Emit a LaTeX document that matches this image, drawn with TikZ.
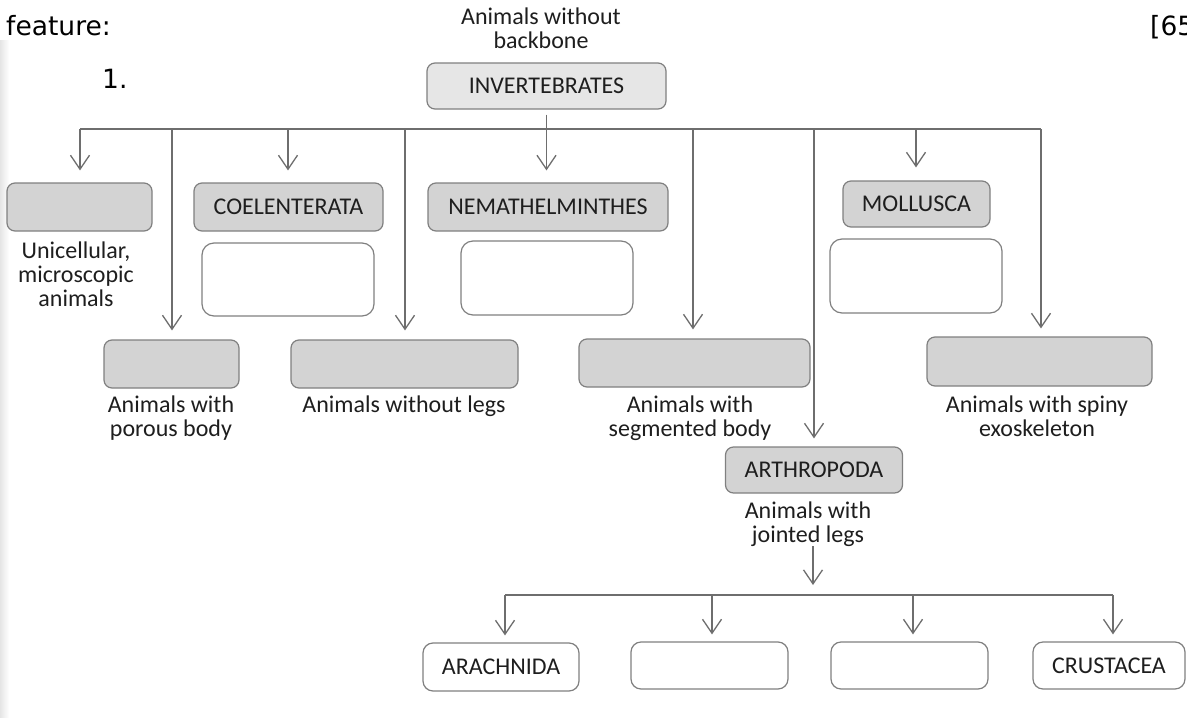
\documentclass[tikz,border=0pt]{standalone}
\usepackage{fontspec}
\setmainfont{Carlito}
\newfontfamily\dejavu{DejaVu Sans}
\usetikzlibrary{arrows.meta}
\definecolor{lncol}{HTML}{6E6E6E}
\definecolor{bdcol}{HTML}{808080}
\definecolor{gfill}{HTML}{D3D3D3}
\definecolor{lfill}{HTML}{E6E6E6}
\definecolor{txcol}{HTML}{1E1E1E}
\tikzset{
  gbox/.style={draw=bdcol, fill=gfill, line width=1.2pt, rounded corners=8pt, inner sep=0pt, text=txcol},
  ibox/.style={gbox, fill=lfill},
  wbox/.style={draw=bdcol, fill=white, line width=1.2pt, rounded corners=12pt, inner sep=0pt},
  sbox/.style={draw=bdcol, fill=white, line width=1.2pt, rounded corners=10pt, inner sep=0pt, text=txcol},
  lbl/.style={align=center, inner sep=0pt, anchor=north, text=txcol},
  conn/.style={draw=lncol, line width=1.3pt},
  arr/.style={conn, -{Straight Barb[length=14pt,width=19pt]}},
  topfont/.style={font=\dejavu\fontsize{26.5}{26.5}\selectfont, inner sep=0pt, anchor=base west, text=black}
}
\begin{document}
\begin{tikzpicture}[x=1pt, y=-1pt, font=\fontsize{24}{24}\selectfont]
\useasboundingbox (0,0) rectangle (1187,718);
\clip (0,0) rectangle (1187,718);
\fill[white] (0,0) rectangle (1187,718);
\shade[left color=black!10, right color=white] (0,40) rectangle (9,718);

% header texts
\node[topfont] (feat) at (6,35) {feature:};
\node[topfont] (num) at (102,88) {1.};
\node[topfont] (mark) at (1150,35) {[65};

% top label and root
\node[lbl] (t0) at (541,8) {Animals without\\backbone};
\node[ibox, minimum width=239pt, minimum height=46pt] (inv) at (546.5,86) {INVERTEBRATES};

% first-level boxes
\node[gbox, minimum width=145pt, minimum height=48pt] (uni) at (79.5,207) {};
\node[gbox, minimum width=189pt, minimum height=48pt] (coel) at (288.5,207) {COELENTERATA};
\node[wbox, minimum width=172pt, minimum height=73pt] (coelw) at (288,279.5) {};
\node[gbox, minimum width=240pt, minimum height=48pt] (nema) at (548,207) {NEMATHELMINTHES};
\node[wbox, minimum width=172pt, minimum height=74pt] (nemaw) at (547,278) {};
\node[gbox, minimum width=147pt, minimum height=46pt] (moll) at (916.5,204) {MOLLUSCA};
\node[wbox, minimum width=172pt, minimum height=74pt] (mollw) at (916,276) {};

\node[gbox, minimum width=135pt, minimum height=48pt] (por) at (171.5,364) {};
\node[gbox, minimum width=227pt, minimum height=48pt] (nol) at (404.5,364) {};
\node[gbox, minimum width=231pt, minimum height=48pt] (seg) at (694.5,363) {};
\node[gbox, minimum width=225pt, minimum height=49pt] (spi) at (1039.5,361.5) {};

\node[gbox, minimum width=177pt, minimum height=46pt] (arth) at (814,470) {ARTHROPODA};

% labels
\node[lbl] (t1) at (76,242) {Unicellular,\\microscopic\\animals};
\node[lbl] (t2) at (171,396) {Animals with\\porous body};
\node[lbl] (t3) at (404,396) {Animals without legs};
\node[lbl] (t4) at (690,396) {Animals with\\segmented body};
\node[lbl] (t5) at (1037,396) {Animals with spiny\\exoskeleton};
\node[lbl] (jl) at (808,502) {Animals with\\jointed legs};

% bottom boxes
\node[sbox, minimum width=156pt, minimum height=48pt] (ara) at (501,667) {ARACHNIDA};
\node[sbox, minimum width=157pt, minimum height=47pt] (bx2) at (709.5,665.5) {};
\node[sbox, minimum width=157pt, minimum height=47pt] (bx3) at (909.5,665.5) {};
\node[sbox, minimum width=152pt, minimum height=47pt] (cru) at (1109,665.5) {CRUSTACEA};

% top bus
\coordinate (b1) at (80,129);
\coordinate (b2) at (172,129);
\coordinate (b3) at (288,129);
\coordinate (b4) at (405,129);
\coordinate (b6) at (693,129);
\coordinate (b7) at (814,129);
\coordinate (b8) at (916,129);
\coordinate (b9) at (1041,129);
\draw[conn] (b1) -- (b9);
\draw[arr, shorten <=5pt, shorten >=12pt] (inv.south) -- (inv.south |- nema.north);
\draw[arr, shorten >=12pt] (b1) -- (b1 |- uni.north);
\draw[arr, shorten >=9pt] (b2) -- (b2 |- por.north);
\draw[arr, shorten >=12pt] (b3) -- (b3 |- coel.north);
\draw[arr, shorten >=9pt] (b4) -- (b4 |- nol.north);
\draw[arr, shorten >=9pt] (b6) -- (b6 |- seg.north);
\draw[arr, shorten >=8pt] (b7) -- (b7 |- arth.north);
\draw[arr, shorten >=13pt] (b8) -- (b8 |- moll.north);
\draw[arr, shorten >=8pt] (b9) -- (b9 |- spi.north);

% bottom bus
\coordinate (j0) at (813,546);
\coordinate (jb) at (813,595);
\draw[arr, shorten >=10pt] (j0) -- (jb);
\coordinate (c1) at (505,595);
\coordinate (c2) at (712,595);
\coordinate (c3) at (913,595);
\coordinate (c4) at (1113,595);
\draw[conn] (c1) -- (c4);
\draw[arr, shorten >=7pt] (c1) -- (c1 |- ara.north);
\draw[arr, shorten >=7pt] (c2) -- (c2 |- bx2.north);
\draw[arr, shorten >=7pt] (c3) -- (c3 |- bx3.north);
\draw[arr, shorten >=7pt] (c4) -- (c4 |- cru.north);
\end{tikzpicture}
\end{document}
